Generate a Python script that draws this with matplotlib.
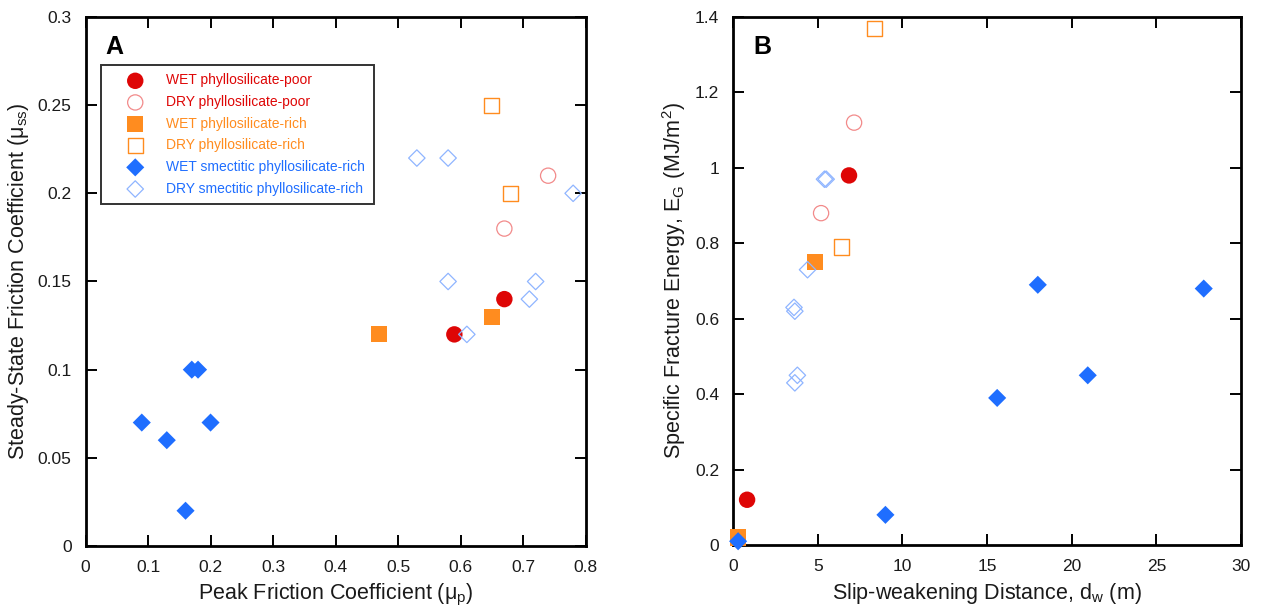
import matplotlib
matplotlib.use("Agg")
import matplotlib.pyplot as plt

plt.rcParams['font.family'] = ['Liberation Sans', 'DejaVu Sans']
plt.rcParams['mathtext.fontset'] = 'custom'
plt.rcParams['mathtext.rm'] = 'Liberation Sans'
plt.rcParams['mathtext.it'] = 'Liberation Sans:italic'
plt.rcParams['mathtext.default'] = 'regular'

# ---------------- Data ----------------
series_labels = ["WET phyllosilicate-poor", "DRY phyllosilicate-poor",
                 "WET phyllosilicate-rich", "DRY phyllosilicate-rich",
                 "WET smectitic phyllosilicate-rich", "DRY smectitic phyllosilicate-rich"]

# Panel A: peak friction (mu_p) vs steady-state friction (mu_ss)
a_wet_poor_x = [0.59, 0.67]
a_wet_poor_y = [0.12, 0.14]
a_dry_poor_x = [0.67, 0.74]
a_dry_poor_y = [0.18, 0.21]
a_wet_rich_x = [0.47, 0.65]
a_wet_rich_y = [0.12, 0.13]
a_dry_rich_x = [0.65, 0.68]
a_dry_rich_y = [0.25, 0.20]
a_wet_smec_x = [0.09, 0.13, 0.16, 0.17, 0.18, 0.20]
a_wet_smec_y = [0.07, 0.06, 0.02, 0.10, 0.10, 0.07]
a_dry_smec_x = [0.53, 0.58, 0.58, 0.61, 0.71, 0.72, 0.78]
a_dry_smec_y = [0.22, 0.22, 0.15, 0.12, 0.14, 0.15, 0.20]

# Panel B: slip-weakening distance (d_w) vs specific fracture energy (E_G)
b_wet_poor_x = [6.85, 0.83]
b_wet_poor_y = [0.98, 0.12]
b_dry_poor_x = [7.15, 5.2]
b_dry_poor_y = [1.12, 0.88]
b_wet_rich_x = [4.85, 0.3]
b_wet_rich_y = [0.75, 0.02]
b_dry_rich_x = [8.35, 6.4]
b_dry_rich_y = [1.37, 0.79]
b_wet_smec_x = [0.3, 9.0, 15.6, 18.0, 20.95, 27.8]
b_wet_smec_y = [0.01, 0.08, 0.39, 0.69, 0.45, 0.68]
b_dry_smec_x = [5.4, 5.5, 4.4, 3.6, 3.65, 3.8, 3.65]
b_dry_smec_y = [0.97, 0.97, 0.73, 0.63, 0.62, 0.45, 0.43]

a_xticks = [0, 0.1, 0.2, 0.3, 0.4, 0.5, 0.6, 0.7, 0.8]
a_yticks = [0, 0.05, 0.1, 0.15, 0.2, 0.25, 0.3]
b_xticks = [0, 5, 10, 15, 20, 25, 30]
b_yticks = [0, 0.2, 0.4, 0.6, 0.8, 1, 1.2, 1.4]

# ---------------- Styles ----------------
RED = '#DE0606'
RED_LIGHT = '#F28A8A'
ORANGE = '#FF8C1F'
BLUE = '#1F6EFF'
BLUE_LIGHT = '#8FB5FF'
TXT = '#1a1a1a'

styles = [
    dict(marker='o', s=140, facecolors=RED, edgecolors='none'),
    dict(marker='o', s=120, facecolors='none', edgecolors=RED_LIGHT, linewidths=0.9),
    dict(marker='s', s=135, facecolors=ORANGE, edgecolors='none'),
    dict(marker='s', s=120, facecolors='none', edgecolors=ORANGE, linewidths=1.0),
    dict(marker='D', s=85, facecolors=BLUE, edgecolors='none'),
    dict(marker='D', s=70, facecolors='none', edgecolors=BLUE_LIGHT, linewidths=0.9),
]
text_colors = [RED, RED, ORANGE, ORANGE, BLUE, BLUE]

fig = plt.figure(figsize=(12.84, 6.15), dpi=100)
axA = fig.add_axes([0.0666, 0.1122, 0.3895, 0.8602])
axB = fig.add_axes([0.5709, 0.1138, 0.3956, 0.8585])

dataA = [(a_wet_poor_x, a_wet_poor_y), (a_dry_poor_x, a_dry_poor_y),
         (a_wet_rich_x, a_wet_rich_y), (a_dry_rich_x, a_dry_rich_y),
         (a_wet_smec_x, a_wet_smec_y), (a_dry_smec_x, a_dry_smec_y)]
dataB = [(b_wet_poor_x, b_wet_poor_y), (b_dry_poor_x, b_dry_poor_y),
         (b_wet_rich_x, b_wet_rich_y), (b_dry_rich_x, b_dry_rich_y),
         (b_wet_smec_x, b_wet_smec_y), (b_dry_smec_x, b_dry_smec_y)]

order = [5, 1, 3, 2, 0, 4]
for i in order:
    x, y = dataA[i]
    axA.scatter(x, y, label=series_labels[i], zorder=3 + i, clip_on=False, **styles[i])
for i in order:
    x, y = dataB[i]
    axB.scatter(x, y, zorder=3 + i, clip_on=False, **styles[i])

def fmt(v):
    return ('%g' % v)

for ax, xt, yt in [(axA, a_xticks, a_yticks), (axB, b_xticks, b_yticks)]:
    ax.set_xlim(xt[0], xt[-1])
    ax.set_ylim(yt[0], yt[-1])
    ax.set_xticks(xt)
    ax.set_yticks(yt)
    ax.set_xticklabels([fmt(v) for v in xt])
    ax.set_yticklabels([fmt(v) for v in yt])
    ax.tick_params(direction='in', length=8, width=1.4, top=True, right=True,
                   labelsize=12.5, labelcolor=TXT, pad=10)
    for sp in ax.spines.values():
        sp.set_linewidth(2.0)

LBL = 15.5
axA.set_xlabel(r'Peak Friction Coefficient ($\mu_p$)', fontsize=LBL, color=TXT, labelpad=5)
axA.set_ylabel(r'Steady-State Friction Coefficient ($\mu_{ss}$)', fontsize=LBL, color=TXT, labelpad=5)
axB.set_xlabel(r'Slip-weakening Distance, $d_w$ (m)', fontsize=LBL, color=TXT, labelpad=5)
axB.set_ylabel(r'Specific Fracture Energy, $E_G$ (MJ/m$^2$)', fontsize=LBL, color=TXT, labelpad=5)

axA.text(0.058, 0.944, 'A', transform=axA.transAxes, fontsize=18, fontweight='bold',
         ha='center', va='center')
axB.text(0.058, 0.944, 'B', transform=axB.transAxes, fontsize=18, fontweight='bold',
         ha='center', va='center')

handles, labels = axA.get_legend_handles_labels()
hmap = dict(zip(labels, handles))
h_ordered = [hmap[l] for l in series_labels]
leg = axA.legend(h_ordered, series_labels, loc='upper left', bbox_to_anchor=(0.03, 0.909),
                 borderaxespad=0, fontsize=10, frameon=True, fancybox=False,
                 handletextpad=0.35, labelspacing=0.55, borderpad=0.6,
                 handlelength=3.8, scatterpoints=1)
leg.get_frame().set_edgecolor('black')
leg.get_frame().set_linewidth(1.4)
for t, c in zip(leg.get_texts(), text_colors):
    t.set_color(c)

fig.savefig('out.png', dpi=100)
